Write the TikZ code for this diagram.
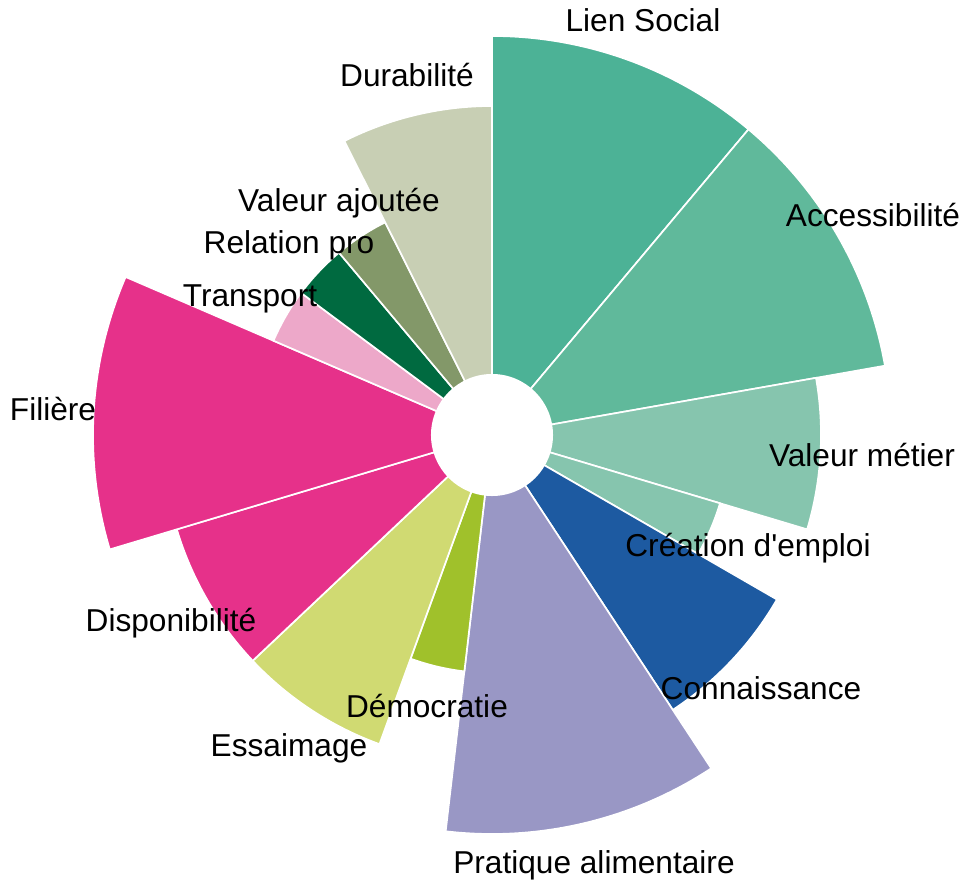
\documentclass[tikz,border=0pt]{standalone}
\usepackage{fontspec}
\setmainfont{Liberation Sans}[Ligatures=TeXOff]
\usepackage{xcolor}
\usetikzlibrary{positioning}

\definecolor{lienC}{HTML}{4CB296}
\definecolor{accesC}{HTML}{60B99B}
\definecolor{metierC}{HTML}{86C5AE}
\definecolor{connC}{HTML}{1D5AA1}
\definecolor{pratC}{HTML}{9997C5}
\definecolor{demoC}{HTML}{A0C12B}
\definecolor{essC}{HTML}{D0DA72}
\definecolor{filC}{HTML}{E6318A}
\definecolor{transC}{HTML}{EDA8C9}
\definecolor{relC}{HTML}{006A40}
\definecolor{ajoutC}{HTML}{839869}
\definecolor{durC}{HTML}{C8CFB4}

\begin{document}
\begin{tikzpicture}[
  x=0.025cm, y=0.025cm,
  font=\fontsize{22.5pt}{27pt}\selectfont,
  sector/.style={draw=white, line width=1.2pt},
  hole/.style={circle, fill=white, inner sep=0pt, minimum size=3.05cm},
  lbl/.style={anchor=base, inner sep=0pt},
]
\useasboundingbox (-492,-446) rectangle (475,435);

% --- Sectors, clockwise from the top ---
\foreach \a/\b/\r/\c in {90/50/399/lienC, 50/10/399/accesC, 10/-16.667/329/metierC,
    -16.667/-30/238/metierC, -30/-56.667/329/connC, -56.667/-96.667/399/pratC,
    -96.667/-110/238/demoC, -110/-136.667/329/essC, -136.667/-163.333/329/filC,
    -163.333/-203.333/399/filC, -203.333/-216.667/238/transC, -216.667/-230/238/relC,
    -230/-243.333/238/ajoutC, -243.333/-270/329/durC}
  \filldraw[sector, fill=\c] (0,0) -- (\a:\r) arc[start angle=\a, end angle=\b, radius=\r] -- cycle;

% --- Centre hole ---
\node[hole] (centre) at (0,0) {};

% --- Labels ---
\node[lbl] (lien) at (151,403) {Lien Social};
\node[lbl] (acces) at (381,208) {Accessibilité};
\node[lbl] (metier) at (370,-32) {Valeur métier};
\node[lbl] (emploi) at (256,-121) {Création d'emploi};
\node[lbl] (conn) at (269,-264) {Connaissance};
\node[lbl] (prat) at (102,-438) {Pratique alimentaire};
\node[lbl] (demo) at (-65,-282) {Démocratie};
\node[lbl] (essai) at (-203,-321) {Essaimage};
\node[lbl] (dispo) at (-321,-196) {Disponibilité};
\node[lbl] (filiere) at (-439,14) {Filière};
\node[lbl] (trans) at (-242,128) {Transport};
\node[lbl] (relpro) at (-203,181) {Relation pro};
\node[lbl] (ajout) at (-153,223) {Valeur ajoutée};
\node[lbl] (durab) at (-85,348) {Durabilité};

\end{tikzpicture}
\end{document}
